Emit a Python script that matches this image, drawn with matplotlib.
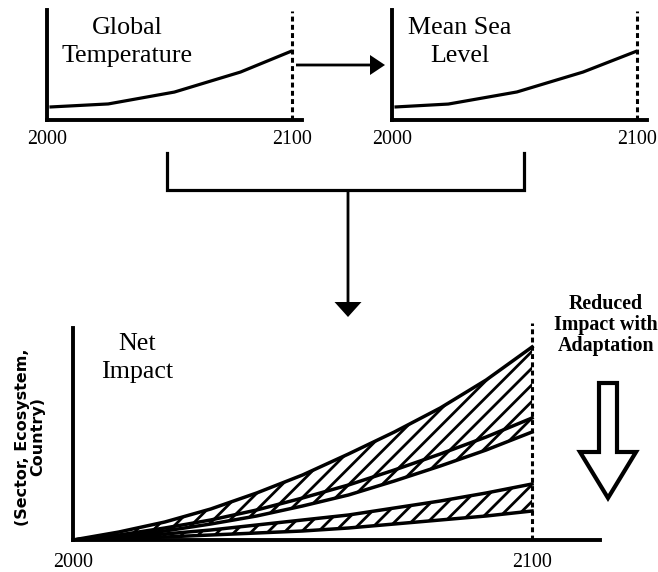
import matplotlib
matplotlib.use('Agg')
import matplotlib.pyplot as plt
from matplotlib.patches import Polygon, FancyArrow
from matplotlib.lines import Line2D

plt.rcParams['font.family'] = ['Liberation Serif', 'DejaVu Serif']
plt.rcParams['hatch.linewidth'] = 2.0
plt.rcParams['hatch.color'] = 'black'

# ---------------- data ----------------
temp_years = [2001, 2025, 2052, 2079, 2100]
temp_values = [0.59, 0.73, 1.27, 2.18, 3.14]          # schematic units

sea_years = [2001, 2023, 2051, 2078, 2100]
sea_values = [11.8, 14.5, 25.5, 43.6, 62.7]           # schematic units

impact_years = [2000, 2010, 2020, 2030, 2040, 2050, 2060, 2070, 2080, 2090, 2100]
impact_high_upper = [0, 8, 18, 31, 47, 65, 86, 108, 132, 160, 193]
impact_high_mid = [0, 5, 12, 20, 30, 42, 55, 70, 86, 103, 122]
impact_high_lower = [0, 4, 9, 16, 24, 34, 45, 59, 74, 90, 108]
impact_adapt_upper = [0, 3, 6, 10, 15, 20, 25, 32, 39, 47, 56]
impact_adapt_lower = [0, 1, 3, 5, 7, 9, 12, 16, 20, 24, 29]

tick_years = [2000, 2100]
tick_labels = ['2000', '2100']
horizon_year = 2100

# ---------------- layout ----------------
W, H = 658, 572
fig = plt.figure(figsize=(W / 100, H / 100), dpi=100)


def rect(l, t, r, b):
    return [l / W, 1 - b / H, (r - l) / W, (b - t) / H]


def style_axes(ax, pad):
    for s in ('top', 'right'):
        ax.spines[s].set_visible(False)
    for s in ('left', 'bottom'):
        ax.spines[s].set_linewidth(2.8)
        ax.spines[s].set_capstyle('projecting')
    ax.set_yticks([])
    ax.set_xticks(tick_years, tick_labels)
    ax.tick_params(axis='x', length=0, pad=pad, labelsize=14.4)
    ax.patch.set_visible(False)


dot_style = dict(color='black', lw=2.2, linestyle=(0, (1.6, 1.1)))

ax1 = fig.add_axes(rect(47, 10, 302, 120))
ax1.set_xlim(2000, 2104.1)
ax1.set_ylim(0, 5)
ax1.plot(temp_years, temp_values, color='black', lw=2.3, solid_capstyle='butt')
ax1.axvline(horizon_year, ymin=0, ymax=0.99, **dot_style)
style_axes(ax1, 7)

ax2 = fig.add_axes(rect(392, 10, 647, 120))
ax2.set_xlim(2000, 2104.1)
ax2.set_ylim(0, 100)
ax2.plot(sea_years, sea_values, color='black', lw=2.3, solid_capstyle='butt')
ax2.axvline(horizon_year, ymin=0, ymax=0.99, **dot_style)
style_axes(ax2, 7)

ax3 = fig.add_axes(rect(73, 328, 600, 540))
ax3.set_xlim(2000, 2114.8)
ax3.set_ylim(0, 212)
ax3.fill_between(impact_years, impact_high_lower, impact_high_upper,
                 facecolor='none', edgecolor='black', hatch='//', linewidth=0)
ax3.fill_between(impact_years, impact_adapt_lower, impact_adapt_upper,
                 facecolor='none', edgecolor='black', hatch='//', linewidth=0)
for series in (impact_high_upper, impact_high_mid, impact_high_lower,
               impact_adapt_upper, impact_adapt_lower):
    ax3.plot(impact_years, series, color='black', lw=2.5)
ax3.axvline(horizon_year, ymin=0, ymax=1.025, clip_on=False, **dot_style)
style_axes(ax3, 9.5)

# ---------------- overlay (texts, arrows, bracket) ----------------
ov = fig.add_axes([0, 0, 1, 1])
ov.set_xlim(0, W)
ov.set_ylim(H, 0)
ov.axis('off')

big = 18.7
ov.text(127, 42, 'Global\nTemperature', ha='center', va='center', fontsize=big, linespacing=1.3)
ov.text(460, 42, 'Mean Sea\nLevel', ha='center', va='center', fontsize=big, linespacing=1.3)
ov.text(137, 358, 'Net\nImpact', ha='center', va='center', fontsize=big, linespacing=1.3)
ov.text(606, 325, 'Reduced\nImpact with\nAdaptation', ha='center', va='center',
        fontsize=14.4, fontweight='bold', linespacing=1.08)
ov.text(30, 437, '(Sector, Ecosystem,\nCountry)', ha='center', va='center', rotation=90,
        fontsize=11.5, fontweight='bold', family=['DejaVu Sans'], linespacing=1.0)

# arrow between top panels
ov.add_patch(FancyArrow(296, 65, 89, 0, width=2.8, head_width=20, head_length=15,
                        length_includes_head=True, color='black', lw=0))
# bracket
ov.add_line(Line2D([167, 167, 524, 524], [153, 190, 190, 153], color='black', lw=2.3,
                   solid_joinstyle='miter'))
ov.add_patch(FancyArrow(348, 190, 0, 127, width=2.8, head_width=27, head_length=15,
                        length_includes_head=True, color='black', lw=0))
# hollow adaptation arrow
ov.add_patch(Polygon([(599, 383), (617, 383), (617, 452), (636, 452), (608, 498),
                      (580, 452), (599, 452)], closed=True, facecolor='white',
                     edgecolor='black', lw=3.0, joinstyle='miter'))

fig.savefig('out.png', dpi=100)
